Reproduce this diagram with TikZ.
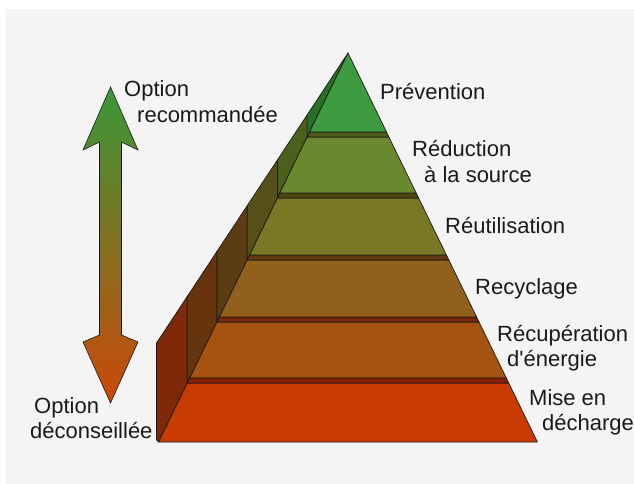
\documentclass[tikz,border=0pt]{standalone}
\usepackage{fontspec}
\newfontfamily\labfont{Liberation Sans}
\definecolor{bg}{RGB}{244,244,244}
\definecolor{tA}{RGB}{62,154,62}
\definecolor{tB}{RGB}{106,136,46}
\definecolor{tC}{RGB}{122,120,36}
\definecolor{tD}{RGB}{145,96,28}
\definecolor{tE}{RGB}{166,82,16}
\definecolor{tF}{RGB}{200,60,2}
\definecolor{sA}{RGB}{40,112,36}
\definecolor{sB}{RGB}{76,96,30}
\definecolor{sC}{RGB}{86,80,24}
\definecolor{sD}{RGB}{92,60,18}
\definecolor{sE}{RGB}{102,52,12}
\definecolor{sF}{RGB}{126,40,8}
\definecolor{pB}{RGB}{78,90,22}
\definecolor{pC}{RGB}{78,70,16}
\definecolor{pD}{RGB}{100,56,16}
\definecolor{pE}{RGB}{120,40,10}
\definecolor{pF}{RGB}{140,30,6}
\definecolor{agreen}{RGB}{58,152,58}
\definecolor{aolive}{RGB}{120,108,38}
\definecolor{ared}{RGB}{204,72,8}
\definecolor{ink}{RGB}{26,26,26}
\begin{document}
\begin{tikzpicture}[x=1pt,y=-1pt,
  face/.style={draw=ink,line width=0.7pt,line join=round},
  lab/.style={anchor=base west,inner sep=0pt,text=ink,font=\labfont\fontsize{22}{25}\selectfont}]
\useasboundingbox (0,0) rectangle (634,484);
\fill[white] (0,0) rectangle (634,484);
\fill[bg] (6,9) rectangle (634,484);

% double arrow
\shade[top color=agreen,middle color=aolive,bottom color=ared]
  (110.5,87) -- (138,150) -- (121.5,142) -- (121.5,335) -- (138,342) -- (110.5,403)
  -- (83,342) -- (99.5,335) -- (99.5,142) -- (83,150) -- cycle;
\draw[draw=ink,line width=0.6pt,line join=miter]
  (110.5,87) -- (138,150) -- (121.5,142) -- (121.5,335) -- (138,342) -- (110.5,403)
  -- (83,342) -- (99.5,335) -- (99.5,142) -- (83,150) -- cycle;

% side faces
\filldraw[face,fill=sF] (156.5,343) -- (156.5,440) -- (158.6,442) -- (187.3,383) -- (187.3,296.4) -- cycle;
\filldraw[face,fill=sE] (187.3,296.4) -- (187.3,383) -- (217,322) -- (217,251.4) -- cycle;
\filldraw[face,fill=sD] (217,251.4) -- (217,322) -- (247.2,260) -- (247.2,205.7) -- cycle;
\filldraw[face,fill=sC] (247.2,205.7) -- (247.2,260) -- (277.4,198) -- (277.4,160) -- cycle;
\filldraw[face,fill=sB] (277.4,160) -- (277.4,198) -- (307.1,137) -- (307.1,115) -- cycle;
\filldraw[face,fill=sA] (307.1,115) -- (307.1,137) -- (348,53) -- cycle;

% front faces and top strips
\filldraw[face,fill=tF] (158.6,442) -- (537.4,442) -- (508.7,383) -- (187.3,383) -- cycle;
\filldraw[face,fill=pF] (187.3,383) -- (508.7,383) -- (506.3,378) -- (189.7,378) -- cycle;
\filldraw[face,fill=tE] (189.7,378) -- (506.3,378) -- (479,322) -- (217,322) -- cycle;
\filldraw[face,fill=pE] (217,322) -- (479,322) -- (476.6,317) -- (219.4,317) -- cycle;
\filldraw[face,fill=tD] (219.4,317) -- (476.6,317) -- (448.8,260) -- (247.2,260) -- cycle;
\filldraw[face,fill=pD] (247.2,260) -- (448.8,260) -- (446.4,255) -- (249.6,255) -- cycle;
\filldraw[face,fill=tC] (249.6,255) -- (446.4,255) -- (418.6,198) -- (277.4,198) -- cycle;
\filldraw[face,fill=pC] (277.4,198) -- (418.6,198) -- (416.2,193) -- (279.8,193) -- cycle;
\filldraw[face,fill=tB] (279.8,193) -- (416.2,193) -- (388.9,137) -- (307.1,137) -- cycle;
\filldraw[face,fill=pB] (307.1,137) -- (388.9,137) -- (386.5,132) -- (309.5,132) -- cycle;
\filldraw[face,fill=tA] (309.5,132) -- (386.5,132) -- (348,53) -- cycle;

% labels
\node[lab] (rec1) at (124,97) {Option};
\node[lab] (rec2) at (137,122) {recommandée};
\node[lab] (dec1) at (34,413) {Option};
\node[lab] (dec2) at (30,438) {déconseillée};
\node[lab] (prev) at (380,100) {Prévention};
\node[lab] (red1) at (412,157) {Réduction};
\node[lab] (red2) at (424,182) {à la source};
\node[lab] (reut) at (445,233) {Réutilisation};
\node[lab] (recy) at (475,294) {Recyclage};
\node[lab] (recu1) at (497,341) {Récupération};
\node[lab] (recu2) at (507,366) {d'énergie};
\node[lab] (mise1) at (529,405) {Mise en};
\node[lab] (mise2) at (542,430) {décharge};
\end{tikzpicture}
\end{document}
